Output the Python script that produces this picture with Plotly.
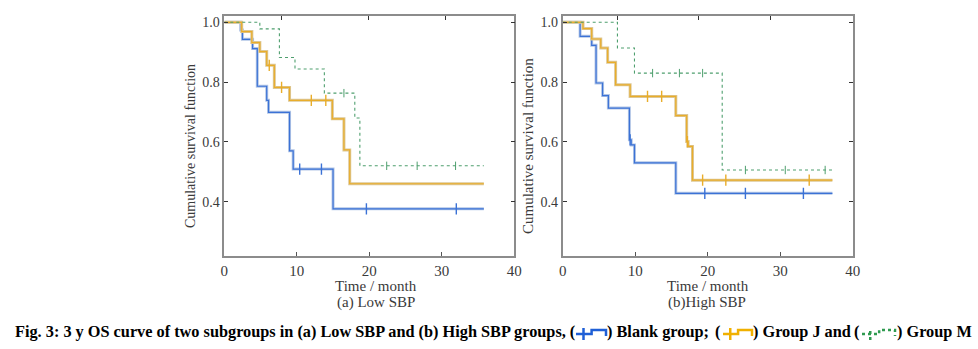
import plotly.graph_objects as go

# ---------------- data ----------------
# Panel (a) Low SBP
blank_a_t = [2.25, 2.5, 3.9, 4.55, 5.85, 6.1, 9.0, 9.5, 15.0]
blank_a_s = [0.974, 0.943, 0.912, 0.786, 0.739, 0.699, 0.570, 0.509, 0.376]
blank_a_cens = [10.4, 13.4, 19.6, 32.0]
groupJ_a_t = [2.4, 3.8, 4.9, 5.85, 6.9, 9.0, 14.9, 16.5, 17.3]
groupJ_a_s = [0.969, 0.932, 0.902, 0.856, 0.782, 0.739, 0.677, 0.573, 0.460]
groupJ_a_cens = [6.2, 7.9, 12.0, 14.0]
groupM_a_t = [4.9, 7.6, 9.75, 13.8, 18.0, 18.7]
groupM_a_s = [0.978, 0.882, 0.844, 0.763, 0.680, 0.520]
groupM_a_cens = [16.5, 22.4, 26.6, 31.9]
end_a = 35.8

# Panel (b) High SBP
blank_b_t = [2.4, 4.0, 4.6, 5.5, 6.3, 9.2, 9.45, 9.9, 15.6]
blank_b_s = [0.953, 0.923, 0.797, 0.755, 0.713, 0.607, 0.590, 0.530, 0.428]
blank_b_cens = [9.3, 19.6, 25.2, 33.2]
groupJ_b_t = [2.8, 4.0, 5.25, 6.2, 7.3, 9.3, 15.6, 17.1, 17.3, 17.9]
groupJ_b_s = [0.979, 0.944, 0.914, 0.866, 0.791, 0.752, 0.688, 0.601, 0.585, 0.472]
groupJ_b_cens = [11.7, 13.65, 17.2, 19.3, 22.5, 34.0]
groupM_b_t = [7.55, 9.9, 22.0]
groupM_b_s = [0.914, 0.830, 0.506]
groupM_b_cens = [12.4, 16.1, 19.3, 25.2, 30.7, 36.2]
end_b = 37.2

x_ticks = [0, 10, 20, 30, 40]
y_ticks = [0.4, 0.6, 0.8, 1.0]
y_tick_text = ["0.4", "0.6", "0.8", "1.0"]

# ---------------- helpers ----------------
W, H = 978, 349
def PX(p):
    return p / W
def PY(p):
    return 1 - p / H

def step_xy(times, surv, end):
    xs = [0] + list(times) + [end]
    ys = [1.0] + list(surv) + [surv[-1]]
    return xs, ys

def surv_at(t, times, surv):
    s = 1.0
    for ti, si in zip(times, surv):
        if ti <= t:
            s = si
    return s

BLUE, BLUE_H = "#3b72d6", "#b3c6e6"
ORANGE, ORANGE_H = "#e9ad2a", "#dcc796"
GREEN = "#4e9f6e"

fig = go.Figure()

def add_group(t, s, cens, end, xa, ya, color, halo, dotted=False):
    xs, ys = step_xy(t, s, end)
    if halo:
        fig.add_trace(go.Scatter(x=xs, y=ys, mode="lines", line=dict(color=halo, width=3, shape="hv"),
                                 xaxis=xa, yaxis=ya, hoverinfo="skip", showlegend=False))
    fig.add_trace(go.Scatter(x=xs, y=ys, mode="lines",
                             line=dict(color=color, width=1.1 if dotted else 1.2, shape="hv",
                                       dash="dot" if dotted else "solid"),
                             xaxis=xa, yaxis=ya, showlegend=False))
    cy = [surv_at(c, t, s) for c in cens]
    fig.add_trace(go.Scatter(x=cens, y=cy, mode="markers",
                             marker=dict(symbol="line-ns", size=6 if dotted else 8,
                                         line=dict(color=color, width=1 if dotted else 1.4)),
                             xaxis=xa, yaxis=ya, showlegend=False))

add_group(blank_a_t, blank_a_s, blank_a_cens, end_a, "x", "y", BLUE, BLUE_H)
add_group(groupJ_a_t, groupJ_a_s, groupJ_a_cens, end_a, "x", "y", ORANGE, ORANGE_H)
add_group(groupM_a_t, groupM_a_s, groupM_a_cens, end_a, "x", "y", GREEN, None, dotted=True)
add_group(blank_b_t, blank_b_s, blank_b_cens, end_b, "x2", "y2", BLUE, BLUE_H)
add_group(groupJ_b_t, groupJ_b_s, groupJ_b_cens, end_b, "x2", "y2", ORANGE, ORANGE_H)
add_group(groupM_b_t, groupM_b_s, groupM_b_cens, end_b, "x2", "y2", GREEN, None, dotted=True)

# invisible traces for top tick axes
fig.add_trace(go.Scatter(x=[0], y=[0.5], mode="markers", opacity=0, xaxis="x3", yaxis="y", showlegend=False, hoverinfo="skip"))
fig.add_trace(go.Scatter(x=[0], y=[0.5], mode="markers", opacity=0, xaxis="x4", yaxis="y2", showlegend=False, hoverinfo="skip"))

FRAME = "#8c8c8c"
TXT = "#3a3a3a"
SERIF = "Liberation Serif"
ydom = [PY(255.7), PY(15.7)]
yr = [0.2194, 1.022]

def xaxis(dom, anchor):
    return dict(domain=dom, anchor=anchor, range=[0, 40], tickvals=x_ticks, ticks="inside",
                ticklen=4, tickcolor="#555", tickwidth=1,
                showline=True, linecolor=FRAME, linewidth=1.6, mirror=True, showgrid=False,
                zeroline=False, tickfont=dict(family=SERIF, size=15, color=TXT), automargin=False)

def yaxis(anchor):
    return dict(domain=ydom, anchor=anchor, range=yr, tickvals=y_ticks, ticktext=y_tick_text,
                ticks="inside", ticklen=4, tickcolor="#333", tickwidth=1,
                showline=True, linecolor=FRAME, linewidth=1.6, mirror="ticks", showgrid=False,
                zeroline=False, tickfont=dict(family=SERIF, size=14, color=TXT), automargin=False)

def topaxis(over, anchor, vals):
    return dict(overlaying=over, anchor=anchor, side="top", range=[0, 40], tickvals=vals,
                ticks="inside", ticklen=4, tickcolor="#333", showticklabels=False,
                showline=False, showgrid=False, zeroline=False)

fig.update_layout(
    width=W, height=H, margin=dict(l=0, r=0, t=0, b=0),
    paper_bgcolor="white", plot_bgcolor="white", showlegend=False,
    xaxis=xaxis([PX(224.3), PX(514.3)], "y"),
    yaxis=yaxis("x"),
    xaxis2=xaxis([PX(562.7), PX(852.7)], "y2"),
    yaxis2=yaxis("x2"),
    xaxis3=topaxis("x", "y", [7.9, 19.9, 30.5]),
    xaxis4=topaxis("x2", "y2", [7.5, 18.7, 28.7]),
)

def ann(text, x, y, size, xanchor="center", textangle=0, color=TXT, bold=False):
    fig.add_annotation(text=("<b>%s</b>" % text) if bold else text, x=PX(x), y=PY(y),
                       xref="paper", yref="paper", showarrow=False, xanchor=xanchor, yanchor="middle",
                       textangle=textangle, font=dict(family=SERIF, size=size, color=color))

ann("Cumulative survival function", 190, 146, 14, textangle=-90)
ann("Cumulative survival function", 528, 146, 15, textangle=-90)
ann("Time / month", 376, 286, 15)
ann("(a) Low SBP", 376, 302, 15)
ann("Time / month", 708, 286, 15)
ann("(b)High SBP", 707, 302, 15)

# caption
CAP = 16.3
ann("Fig. 3: 3 y OS curve of two subgroups in (a) Low SBP and (b) High SBP groups, (", 577, 331, CAP, xanchor="right", color="black", bold=True)
ann(") Blank group;", 605, 331, CAP, xanchor="left", color="black", bold=True)
ann("(", 722, 331, CAP, xanchor="right", color="black", bold=True)
ann(") Group J and", 751, 331, CAP, xanchor="left", color="black", bold=True)
ann("(", 861, 331, CAP, xanchor="right", color="black", bold=True)
ann(") Group M", 895, 331, CAP, xanchor="left", color="black", bold=True)

def icon(x0, x1, color, dash="solid"):
    xm = x0 + (x1 - x0) * 0.52
    xc = x0 + (x1 - x0) * 0.25
    lo, hi, dn = 334, 330, 336
    path = "M %f %f L %f %f L %f %f L %f %f L %f %f" % (
        PX(x0), PY(lo), PX(xm), PY(lo), PX(xm), PY(hi), PX(x1), PY(hi), PX(x1), PY(dn))
    fig.add_shape(type="path", path=path, xref="paper", yref="paper",
                  line=dict(color=color, width=2.5, dash=dash))
    fig.add_shape(type="line", x0=PX(xc), x1=PX(xc), y0=PY(340), y1=PY(328), xref="paper", yref="paper",
                  line=dict(color=color, width=2.5, dash=dash))

icon(576, 606, "#1f5fd6")
icon(723, 752, "#f0b000")
icon(862, 895, "#2f9a4f", dash="dot")

fig.write_html("out.html")
